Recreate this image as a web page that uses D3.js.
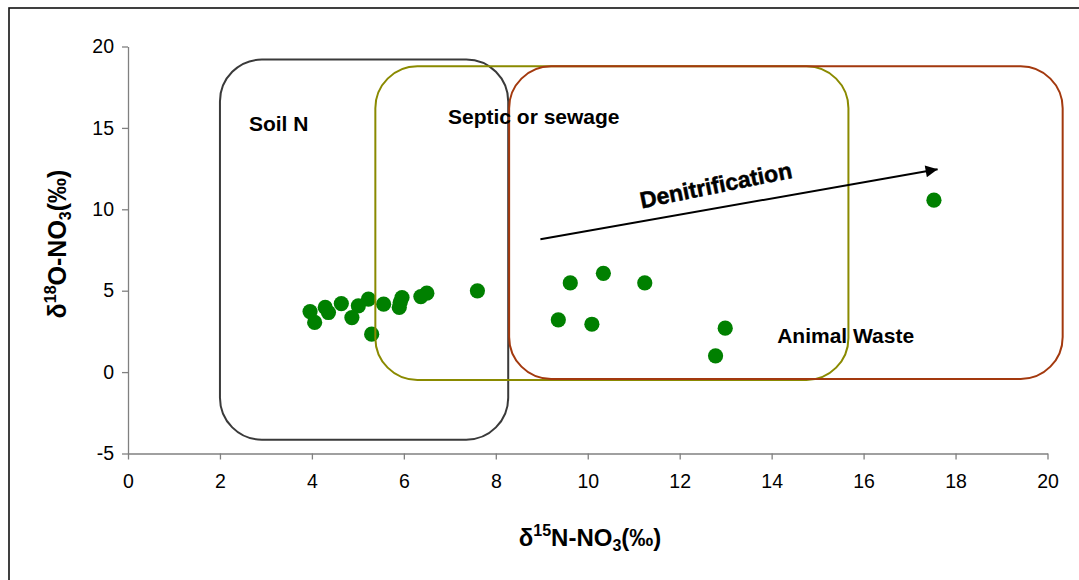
<!DOCTYPE html>
<html><head><meta charset="utf-8">
<script src="https://cdn.jsdelivr.net/npm/d3@7"></script>
<style>body{margin:0;background:#fff}svg{display:block}</style>
</head><body><svg id="c" width="1079" height="580"></svg>
<script>
const xTicks = [0,2,4,6,8,10,12,14,16,18,20];
const yTicks = [-5,0,5,10,15,20];
const d15N = [3.96,4.06,4.29,4.36,4.64,4.87,5.01,5.23,5.30,5.56,5.92,5.90,5.96,6.37,6.50,7.60,9.36,9.62,10.09,10.34,11.24,12.78,12.99,17.53];
const d18O = [3.72,3.05,3.97,3.66,4.21,3.35,4.07,4.48,2.33,4.17,4.28,3.97,4.58,4.64,4.85,4.99,3.21,5.48,2.94,6.07,5.48,1.00,2.70,10.56];
const zoneNames = ["Soil N","Septic or sewage","Animal Waste"];
const zoneX0 = [2.0, 5.38, 8.29];
const zoneX1 = [8.27, 15.67, 20.33];
const zoneY0 = [-4.15, -0.48, -0.42];
const zoneY1 = [19.2, 18.78, 18.78];
const zoneColors = ["#3a3a3a","#8a8a00","#a3390e"];
const zoneLabelX = [2.63, 6.96, 14.12];
const zoneLabelY = [14.8, 15.25, 1.78];
const arrowFrom = [8.97, 8.16], arrowTo = [17.61, 12.46];

const FONT = "Liberation Sans, Arial, sans-serif";
const svg = d3.select("#c");
const x = d3.scaleLinear().domain([0,20]).range([128,1047.5]);
const y = d3.scaleLinear().domain([-5,20]).range([453.5,46.5]);

// outer frame
svg.append("rect").attr("x",9).attr("y",8).attr("width",1100).attr("height",600)
  .attr("fill","none").attr("stroke","#111").attr("stroke-width",1.6);

// axes
const xa = svg.append("g").attr("transform",`translate(0,${y(-5)})`)
  .call(d3.axisBottom(x).tickValues(xTicks).tickFormat(d=>String(d)).tickSize(6).tickPadding(15).tickSizeOuter(0));
const ya = svg.append("g").attr("transform",`translate(${x(0)},0)`)
  .call(d3.axisLeft(y).tickValues(yTicks).tickFormat(d=>String(d)).tickSize(6).tickPadding(8).tickSizeOuter(0));
[xa,ya].forEach(g=>{
  g.select(".domain").attr("stroke","#808080").attr("stroke-width",1.3);
  g.selectAll(".tick line").attr("stroke","#808080").attr("stroke-width",1.3);
  g.selectAll(".tick text").attr("font-family",FONT).attr("font-size",19.5).attr("fill","#000");
});

// points
svg.append("g").selectAll("circle").data(d15N.map((v,i)=>[v,d18O[i]])).join("circle")
  .attr("cx",d=>x(d[0])).attr("cy",d=>y(d[1])).attr("r",7.6).attr("fill","#008000");

// zones
zoneNames.forEach((n,i)=>{
  svg.append("rect").attr("x",x(zoneX0[i])).attr("y",y(zoneY1[i]))
    .attr("width",x(zoneX1[i])-x(zoneX0[i])).attr("height",y(zoneY0[i])-y(zoneY1[i]))
    .attr("rx",42).attr("ry",42).attr("fill","none").attr("stroke",zoneColors[i]).attr("stroke-width",2);
});
zoneNames.forEach((n,i)=>{
  svg.append("text").attr("x",x(zoneLabelX[i])).attr("y",y(zoneLabelY[i]))
    .attr("font-family",FONT).attr("font-weight","bold").attr("font-size",21)
    .attr("fill","#000").text(n);
});

// arrow
svg.append("defs").append("marker").attr("id","ah").attr("viewBox","0 0 10 10").attr("refX",10).attr("refY",5)
  .attr("markerWidth",14).attr("markerHeight",12).attr("markerUnits","userSpaceOnUse").attr("orient","auto")
  .append("path").attr("d","M0,0L10,5L0,10z").attr("fill","#000");
svg.append("line").attr("x1",x(arrowFrom[0])).attr("y1",y(arrowFrom[1])).attr("x2",x(arrowTo[0])).attr("y2",y(arrowTo[1]))
  .attr("stroke","#000").attr("stroke-width",2).attr("marker-end","url(#ah)");
const ang = Math.atan2(y(arrowTo[1])-y(arrowFrom[1]), x(arrowTo[0])-x(arrowFrom[0]))*180/Math.PI;
svg.append("text").attr("transform",`translate(${x(12.82)},${y(11.0)}) rotate(${ang-1.5})`)
  .attr("text-anchor","middle").attr("font-family",FONT).attr("font-weight","bold")
  .attr("font-size",23).attr("fill","#000").attr("stroke","#000").attr("stroke-width",0.5).text("Denitrification");

// axis titles
const xt = svg.append("text").attr("x",590).attr("y",546).attr("text-anchor","middle")
  .attr("font-family",FONT).attr("font-weight","bold").attr("font-size",24).attr("fill","#000");
xt.append("tspan").text("δ");
xt.append("tspan").attr("dy",-10).attr("font-size",16).text("15");
xt.append("tspan").attr("dy",10).text("N-NO");
xt.append("tspan").attr("dy",5).attr("font-size",16).text("3");
xt.append("tspan").attr("dy",-5).text("(‰)");

const yt = svg.append("text").attr("transform","translate(66,244) rotate(-90)").attr("text-anchor","middle")
  .attr("font-family",FONT).attr("font-weight","bold").attr("font-size",25).attr("fill","#000");
yt.append("tspan").text("δ");
yt.append("tspan").attr("dy",-10).attr("font-size",16).text("18");
yt.append("tspan").attr("dy",10).text("O-NO");
yt.append("tspan").attr("dy",5).attr("font-size",16).text("3");
yt.append("tspan").attr("dy",-5).text("(‰)");
</script></body></html>
